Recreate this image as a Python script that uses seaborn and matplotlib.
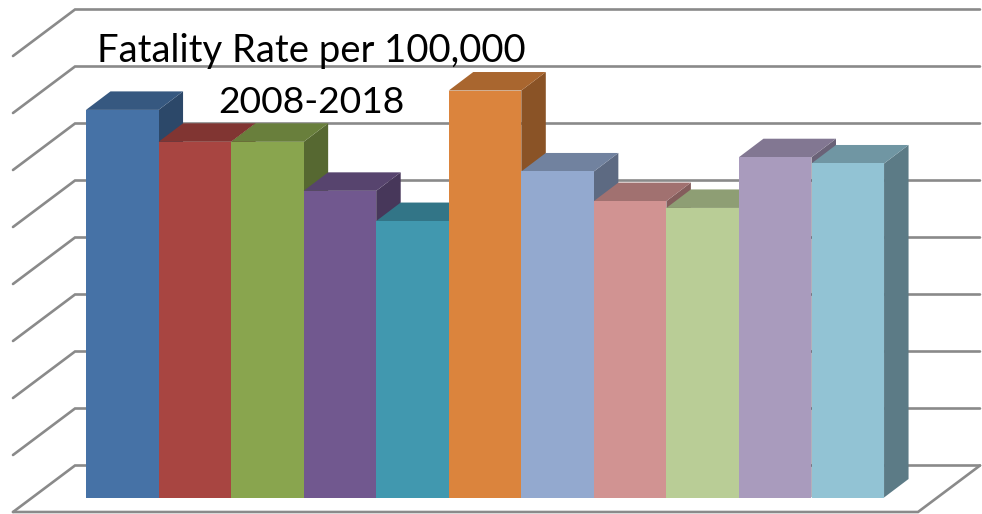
import matplotlib
matplotlib.use("Agg")
import matplotlib.pyplot as plt
import pandas as pd
import seaborn as sns
from matplotlib.colors import to_rgb
from matplotlib.patches import Polygon

# values (one gridline = 1 unit)
years = ["2008", "2009", "2010", "2011", "2012", "2013", "2014", "2015", "2016", "2017", "2018"]
rates = [6.80, 6.24, 6.24, 5.38, 4.85, 7.14, 5.72, 5.20, 5.08, 5.97, 5.86]
colors = ["#4672A6", "#A84541", "#89A54E", "#71588F", "#4198AF", "#DB843D",
          "#93A9CF", "#D19392", "#B9CD96", "#A99BBD", "#92C3D4"]
grid_levels = [0, 1, 2, 3, 4, 5, 6, 7, 8]

# pixel geometry of the fake 3d box
W, H = 982, 514
px_bar = 72.55
px_unit = 57.0
base_px = 497.5
left_px = 86.0
bar_dx = 24.5 / px_bar
bar_dy = 18.5 / px_unit

df = pd.DataFrame({"year": years, "rate": rates})

sns.set_theme(style="white")
plt.rcParams["font.family"] = ["Lato", "DejaVu Sans"]

fig = plt.figure(figsize=(W / 100, H / 100), dpi=100)
ax = fig.add_axes([0, 0, 1, 1])
sns.barplot(data=df, x="year", y="rate", hue="year", palette=colors, width=1.0,
            saturation=1, dodge=False, legend=False, ax=ax, linewidth=0)

ax.set_xlim(-0.5 - left_px / px_bar, -0.5 + (W - left_px) / px_bar)
ax.set_ylim((base_px - H) / px_unit, base_px / px_unit)
ax.axis("off")


def px_x(x):
    return (x - left_px) / px_bar - 0.5


def px_y(y):
    return (base_px - y) / px_unit


# ----- back wall and floor lines -----
grid_color = "#8A8A8A"
back_left, back_right = px_x(75), px_x(980)
front_left, front_right = px_x(13), px_x(918)
wall_back = px_y(465.5)
wall_front = px_y(512)
for lev in grid_levels:
    ax.plot([front_left, back_left, back_right],
            [wall_front + lev, wall_back + lev, wall_back + lev],
            color=grid_color, lw=1.9, solid_joinstyle="miter", zorder=1)
ax.plot([back_right, front_right, front_left],
        [wall_back, wall_front, wall_front],
        color=grid_color, lw=1.9, solid_joinstyle="miter", zorder=1)

# ----- bar tops and sides, later bars sit over earlier ones -----
for i, (bar, col) in enumerate(zip(ax.patches, colors)):
    x0 = bar.get_x()
    x1 = x0 + bar.get_width()
    top = bar.get_height()
    rgb = to_rgb(col)
    top_col = tuple(c * 0.77 for c in rgb)
    side_col = tuple(c * 0.63 for c in rgb)
    z = 3 + i * 2
    ax.add_patch(Polygon([(x1, 0), (x1 + bar_dx, bar_dy), (x1 + bar_dx, top + bar_dy), (x1, top)],
                         facecolor=side_col, edgecolor="none", zorder=z))
    ax.add_patch(Polygon([(x0, top), (x0 + bar_dx, top + bar_dy), (x1 + bar_dx, top + bar_dy), (x1, top)],
                         facecolor=top_col, edgecolor="none", zorder=z))
    bar.set_zorder(z + 1)

ax.text(px_x(97), px_y(62), "Fatality Rate per 100,000", fontsize=27.5, color="black",
        ha="left", va="baseline", zorder=50)
ax.text(px_x(218), px_y(113), "2008-2018", fontsize=26.8, color="black",
        ha="left", va="baseline", zorder=50)

fig.savefig("out.png", dpi=100)
